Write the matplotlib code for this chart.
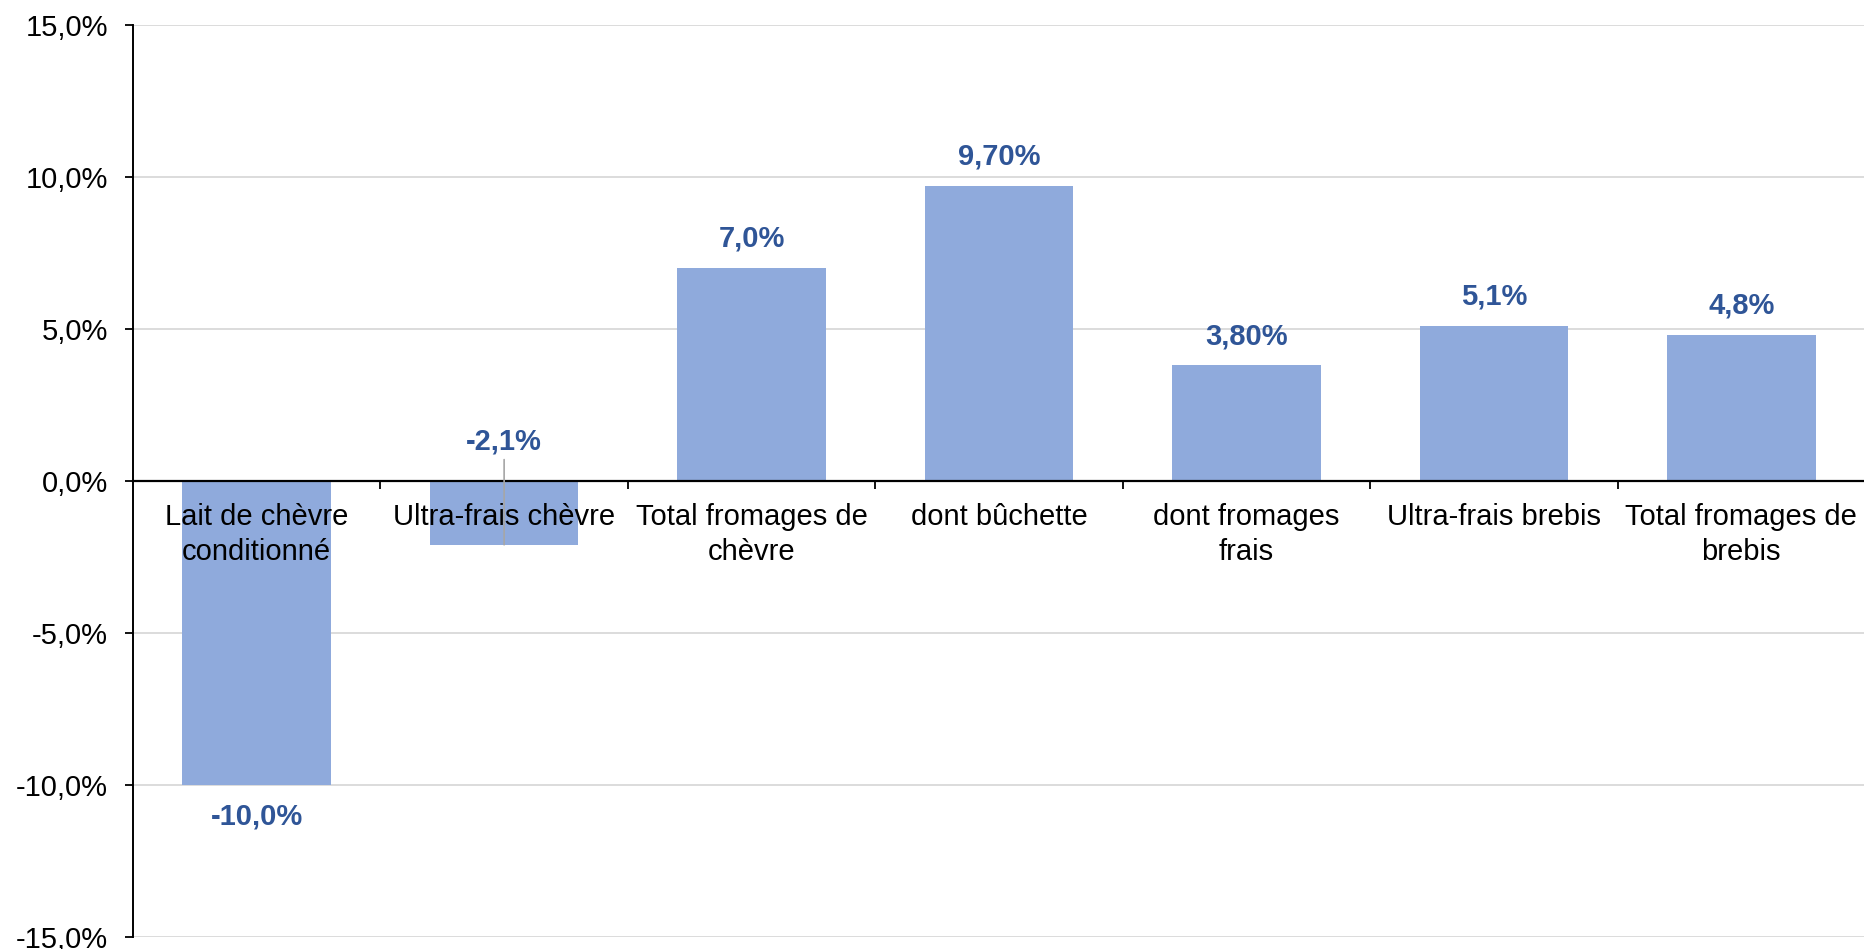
import matplotlib.pyplot as plt
import numpy as np

# %%
categories = ["Lait de chèvre\nconditionné", "Ultra-frais chèvre", "Total fromages de\nchèvre",
              "dont bûchette", "dont fromages\nfrais", "Ultra-frais brebis", "Total fromages de\nbrebis"]
values = [-10.0, -2.1, 7.0, 9.7, 3.8, 5.1, 4.8]
value_labels = ["-10,0%", "-2,1%", "7,0%", "9,70%", "3,80%", "5,1%", "4,8%"]
y_ticks = [-15, -10, -5, 0, 5, 10, 15]

bar_color = "#8FAADC"
label_color = "#2F5597"
plt.rcParams['font.family'] = ['Liberation Sans', 'DejaVu Sans']
fs = 21

# %%
fig = plt.figure(figsize=(18.65, 9.49), dpi=100)
ax = fig.add_axes([0.0713, 0.0127, 0.9287, 0.961])
x = np.arange(len(categories))
ax.bar(x, values, width=0.6, color=bar_color, zorder=2)

# gridlines drawn by hand so they sit under the bars while tick labels stay on top
for t in y_ticks:
    if t != 0:
        ax.axhline(t, color="#D9D9D9", lw=1.3, zorder=0.5)

ax.set_xlim(-0.5, len(categories) - 0.5)
ax.set_ylim(-15, 15)
ax.set_yticks(y_ticks)
ax.set_yticklabels([("%.1f%%" % v).replace(".", ",") for v in y_ticks], fontsize=fs)

ax.spines['bottom'].set_position(('data', 0))
ax.spines['bottom'].set_linewidth(1.6)
ax.spines['left'].set_linewidth(1.4)
ax.spines['right'].set_visible(False)
ax.spines['top'].set_visible(False)
for sp in ax.spines.values():
    sp.set_zorder(3)
ax.xaxis.set_zorder(3)
ax.yaxis.set_zorder(3)

ax.set_xticks(x)
ax.set_xticklabels(categories, fontsize=fs, linespacing=1.3)
ax.set_xticks(np.arange(len(categories)) + 0.5, minor=True)
ax.tick_params(axis='x', which='major', length=0, pad=16)
ax.tick_params(axis='x', which='minor', length=6, width=1.3, direction='out')
ax.tick_params(axis='y', length=6, width=1.3, pad=12)

# %%
for i, (v, lab) in enumerate(zip(values, value_labels)):
    if i == 1:
        # small negative bar: label above the axis with a leader line
        ax.annotate(lab, xy=(i, v), xytext=(i, 1.3), ha='center', va='center',
                    fontsize=fs, fontweight='bold', color=label_color,
                    arrowprops=dict(arrowstyle='-', color='#A6A6A6', lw=1.2,
                                    shrinkA=1, shrinkB=0), zorder=5)
    elif v >= 0:
        ax.annotate(lab, xy=(i, v), xytext=(0, 21), textcoords='offset points',
                    ha='center', va='center', fontsize=fs, fontweight='bold', color=label_color)
    else:
        ax.annotate(lab, xy=(i, v), xytext=(0, -23), textcoords='offset points',
                    ha='center', va='center', fontsize=fs, fontweight='bold', color=label_color)

plt.savefig("out.png", dpi=100)
